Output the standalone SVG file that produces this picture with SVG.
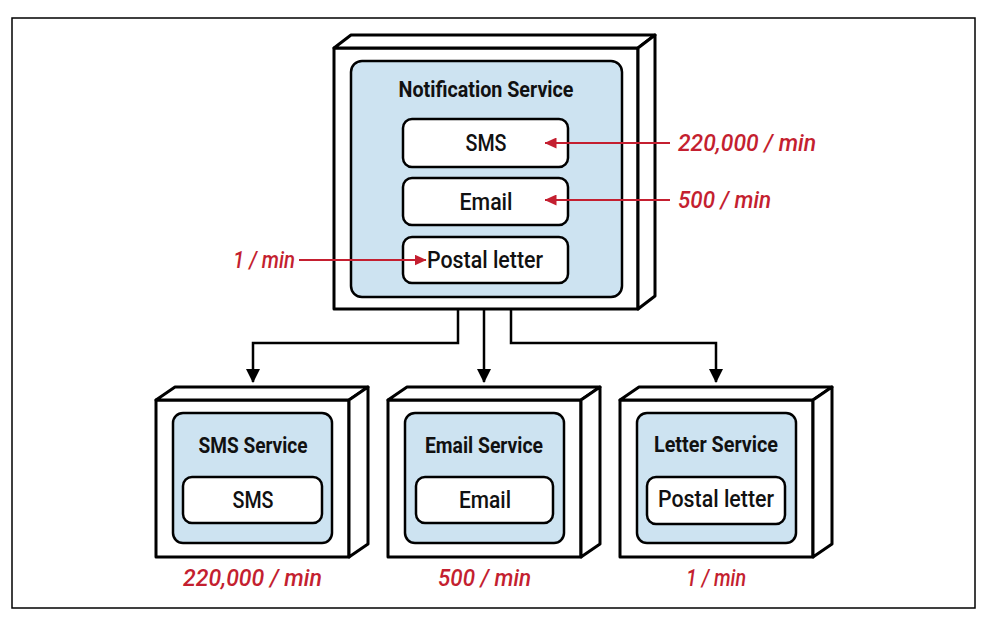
<svg xmlns="http://www.w3.org/2000/svg" width="990" height="623" viewBox="0 0 990 623">
<defs>
<style>
.frame{fill:#fff;stroke:#000;stroke-width:1.5}
.box{fill:#fff;stroke:#000;stroke-width:3;stroke-linejoin:round}
.panel{fill:#cde3f1;stroke:#000;stroke-width:2.5}
.item{fill:#fff;stroke:#000;stroke-width:2.5}
.title{font-family:Roboto,"Liberation Sans",Arial,sans-serif;font-weight:bold;font-size:22px;fill:#111;text-anchor:middle}
.lbl{font-family:Roboto,"Liberation Sans",Arial,sans-serif;font-weight:500;font-size:24px;fill:#111;text-anchor:middle}
.rate{font-family:Roboto,"Liberation Sans",Arial,sans-serif;font-style:italic;font-weight:500;font-size:24px;fill:#c41f30}
.conn{fill:none;stroke:#000;stroke-width:2.5}
.red{fill:none;stroke:#c41f30;stroke-width:2.2}
</style>
<marker id="ah" viewBox="0 0 14 14" refX="13" refY="7" markerWidth="14" markerHeight="14" markerUnits="userSpaceOnUse" orient="auto">
<path d="M0,0 L14,7 L0,14 Z" fill="#000"/>
</marker>
<marker id="rh" viewBox="0 0 12 11" refX="11.5" refY="5.5" markerWidth="12" markerHeight="11" markerUnits="userSpaceOnUse" orient="auto">
<path d="M0,0 L12,5.5 L0,11 Z" fill="#c41f30"/>
</marker>
</defs>
<rect class="frame" x="12" y="18" width="963" height="590"/>

<g id="notification-service">
<rect class="box" x="334" y="48" width="304" height="261"/>
<path class="box" d="M334,48 L351,35 L655,35 L638,48 Z"/>
<path class="box" d="M638,48 L655,35 L655,296 L638,309 Z"/>
<rect class="panel" x="351" y="61" width="271" height="236" rx="11"/>
<text class="title" x="486" y="97" textLength="175" lengthAdjust="spacingAndGlyphs">Notification Service</text>
<g id="ns-sms"><rect class="item" x="403" y="119" width="165" height="48" rx="9"/><text class="lbl" x="486" y="151" textLength="41" lengthAdjust="spacingAndGlyphs">SMS</text></g>
<g id="ns-email"><rect class="item" x="403" y="178" width="165" height="47" rx="9"/><text class="lbl" x="486" y="210" textLength="53" lengthAdjust="spacingAndGlyphs">Email</text></g>
<g id="ns-postal"><rect class="item" x="403" y="237" width="165" height="46" rx="9"/><text class="lbl" x="485" y="268" textLength="116" lengthAdjust="spacingAndGlyphs">Postal letter</text></g>
</g>

<g id="sms-service">
<rect class="box" x="156" y="400" width="193" height="157"/>
<path class="box" d="M156,400 L175,387 L368,387 L349,400 Z"/>
<path class="box" d="M349,400 L368,387 L368,544 L349,557 Z"/>
<rect class="panel" x="173" y="413" width="159" height="130" rx="10"/>
<text class="title" x="253" y="453" textLength="109" lengthAdjust="spacingAndGlyphs">SMS Service</text>
<rect class="item" x="183" y="477" width="139" height="46" rx="9"/>
<text class="lbl" x="253" y="508" textLength="41" lengthAdjust="spacingAndGlyphs">SMS</text>
</g>

<g id="email-service">
<rect class="box" x="388" y="400" width="193" height="157"/>
<path class="box" d="M388,400 L407,387 L600,387 L581,400 Z"/>
<path class="box" d="M581,400 L600,387 L600,544 L581,557 Z"/>
<rect class="panel" x="405" y="413" width="159" height="130" rx="10"/>
<text class="title" x="484" y="453" textLength="118" lengthAdjust="spacingAndGlyphs">Email Service</text>
<rect class="item" x="416" y="477" width="137" height="46" rx="9"/>
<text class="lbl" x="485" y="508" textLength="52" lengthAdjust="spacingAndGlyphs">Email</text>
</g>

<g id="letter-service">
<rect class="box" x="620" y="400" width="193" height="157"/>
<path class="box" d="M620,400 L639,387 L832,387 L813,400 Z"/>
<path class="box" d="M813,400 L832,387 L832,544 L813,557 Z"/>
<rect class="panel" x="637" y="413" width="159" height="130" rx="10"/>
<text class="title" x="716" y="452" textLength="124" lengthAdjust="spacingAndGlyphs">Letter Service</text>
<rect class="item" x="647" y="477" width="138" height="47" rx="9"/>
<text class="lbl" x="716" y="507" textLength="116" lengthAdjust="spacingAndGlyphs">Postal letter</text>
</g>

<g id="connectors">
<path class="conn" d="M458,309 L458,343 L253,343 L253,382" marker-end="url(#ah)"/>
<path class="conn" d="M484,309 L484,382" marker-end="url(#ah)"/>
<path class="conn" d="M511,309 L511,343 L716,343 L716,382" marker-end="url(#ah)"/>
<path class="red" d="M670,143 L545,143" marker-end="url(#rh)"/>
<path class="red" d="M670,200 L545,200" marker-end="url(#rh)"/>
<path class="red" d="M299,260 L426,260" marker-end="url(#rh)"/>
</g>

<g id="rates">
<text class="rate" x="678" y="151" textLength="138" lengthAdjust="spacingAndGlyphs">220,000 / min</text>
<text class="rate" x="678" y="208" textLength="93" lengthAdjust="spacingAndGlyphs">500 / min</text>
<text class="rate" x="233" y="268" textLength="62" lengthAdjust="spacingAndGlyphs">1 / min</text>
<text class="rate" x="183" y="586" textLength="139" lengthAdjust="spacingAndGlyphs">220,000 / min</text>
<text class="rate" x="438" y="586" textLength="93" lengthAdjust="spacingAndGlyphs">500 / min</text>
<text class="rate" x="686" y="586" textLength="60" lengthAdjust="spacingAndGlyphs">1 / min</text>
</g>
</svg>
